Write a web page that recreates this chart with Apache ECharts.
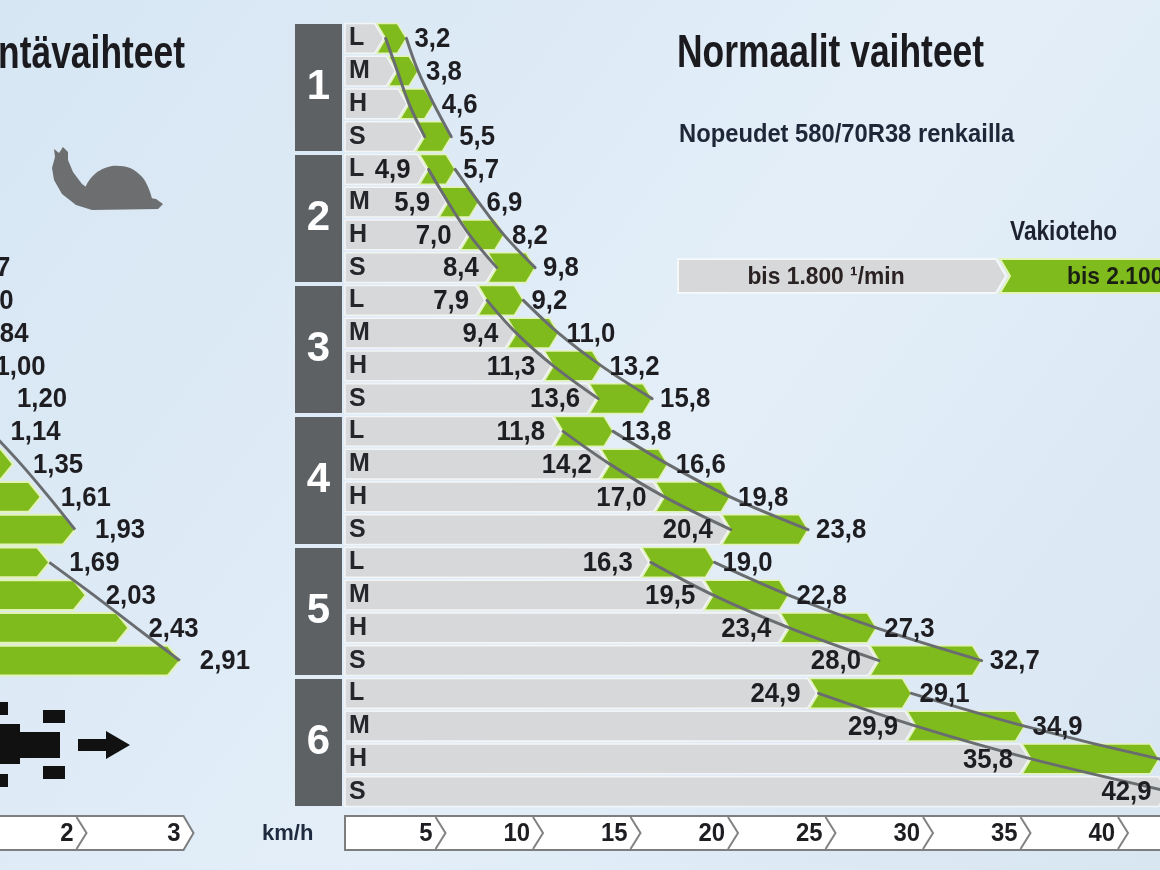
<!DOCTYPE html>
<html><head><meta charset="utf-8">
<script src="https://cdn.jsdelivr.net/npm/echarts@6/dist/echarts.min.js"></script>
<style>html,body{margin:0;padding:0;width:1160px;height:870px;overflow:hidden}#c{width:1160px;height:870px}</style>
</head><body><div id="c"></div><script>
// ---------- data ----------
const gears = ['1', '2', '3', '4', '5', '6'];
const ranges = ['L', 'M', 'H', 'S'];
// km/h at 1800 1/min (start of constant power range)
const speed1800 = [2.7, 3.3, 3.9, 4.7, 4.9, 5.9, 7.0, 8.4, 7.9, 9.4, 11.3, 13.6,
  11.8, 14.2, 17.0, 20.4, 16.3, 19.5, 23.4, 28.0, 24.9, 29.9, 35.8, 42.9];
// km/h at 2100 1/min
const speed2100 = [3.2, 3.8, 4.6, 5.5, 5.7, 6.9, 8.2, 9.8, 9.2, 11.0, 13.2, 15.8,
  13.8, 16.6, 19.8, 23.8, 19.0, 22.8, 27.3, 32.7, 29.1, 34.9, 41.8, 50.0];
// which gears print their 1800 value
const showLowLabel = [false, true, true, true, true, true];
// creep gears (Ryömintävaihteet), km/h, only visible rows
const creepSpeed = [null, null, null, null, null, null, 0.56, 0.67, 0.70, 0.84, 1.00, 1.20,
  1.14, 1.35, 1.61, 1.93, 1.69, 2.03, 2.43, 2.91, null, null, null, null];
const kmhTicks = [5, 10, 15, 20, 25, 30, 35, 40, 45];
const creepTicks = [1, 2, 3];

// ---------- derived ----------
const rowIds = [];
gears.forEach(g => ranges.forEach(r => rowIds.push(g + r)));
const gearData = speed1800.map((lo, i) => [lo, speed2100[i], i]);
const curveData = gears.map((g, gi) => {
  const r = gi * 4;
  return [...speed1800.slice(r, r + 4), ...speed2100.slice(r, r + 4), r];
});
const creepData = creepSpeed.map((v, i) => [v == null ? '-' : v, i]);
const creepCurveData = [];
gears.forEach((g, gi) => {
  const vals = creepSpeed.slice(gi * 4, gi * 4 + 4);
  if (vals.some(v => v != null)) creepCurveData.push([...vals.map(v => v == null ? 0 : v), gi * 4]);
});

// ---------- style ----------
const FONT = '"Liberation Sans",Arial,sans-serif';
const GREEN = '#80bb1e', GREEN_EDGE = '#e2f3b4', GRAY = '#d6d8d9', DARK = '#5e6164', LINE = '#6a6d70', TXT = '#1e1e22';
const TAIL = 20, TIP = 9;
const fmt1 = v => v.toFixed(1).replace('.', ',');
const fmt2 = v => v.toFixed(2).replace('.', ',');
const valText = (text, x, y, align) => ({ type: 'text', x: x, y: y, scaleX: 0.92, z2: 20,
  style: { text: text, x: 0, y: 0, align: align, verticalAlign: 'middle', fill: TXT, font: 'bold 28px ' + FONT } });

function gearShape(params, api) {
  const lo = api.value(0), hi = api.value(1), row = api.value(2);
  const p0 = api.coord([0, row]), pl = api.coord([lo, row]), ph = api.coord([hi, row]);
  const band = api.size([0, 1])[1];
  const h = band - 3, yc = p0[1], top = yc - h / 2, bot = yc + h / 2;
  const gs = pl[0] - TAIL, xe = ph[0];
  return {
    type: 'group', children: [
      { type: 'polygon', shape: { points: [[p0[0] + 1, top], [gs - 2, top], [gs + TIP - 2, yc], [gs - 2, bot], [p0[0] + 1, bot]] },
        style: { fill: GRAY, stroke: '#f3f5f6', lineWidth: 1.5 } },
      { type: 'polygon', shape: { points: [[gs, top], [xe - TIP, top], [xe, yc], [xe - TIP, bot], [gs, bot], [gs + TIP, yc]] },
        style: { fill: GREEN, stroke: GREEN_EDGE, lineWidth: 1.5 } }
    ]
  };
}
function gearLabels(params, api) {
  const lo = api.value(0), hi = api.value(1), row = api.value(2);
  const pl = api.coord([lo, row]), ph = api.coord([hi, row]);
  const ch = [valText(fmt1(hi), ph[0] + 8, pl[1] + 1, 'left')];
  if (showLowLabel[Math.floor(row / 4)]) ch.push(valText(fmt1(lo), pl[0] - TAIL - 9, pl[1] + 1, 'right'));
  return { type: 'group', children: ch };
}
function gearCurves(params, api) {
  const r0 = api.value(8);
  const low = [], high = [];
  for (let k = 0; k < 4; k++) {
    const a = api.coord([api.value(k), r0 + k]);
    const b = api.coord([api.value(4 + k), r0 + k]);
    low.push([a[0] - TAIL + TIP, a[1]]);
    high.push([b[0], b[1]]);
  }
  const st = { stroke: LINE, lineWidth: 3, fill: null, lineCap: 'round' };
  return { type: 'group', children: [
    { type: 'polyline', shape: { points: low, smooth: 0.35 }, style: st },
    { type: 'polyline', shape: { points: high, smooth: 0.35 }, style: st }
  ] };
}
function creepShape(params, api) {
  const v = api.value(0), row = api.value(1);
  if (isNaN(v)) return null;
  const p0 = api.coord([0, row]), pv = api.coord([v, row]);
  const band = api.size([0, 1])[1];
  const h = band - 3, yc = p0[1], top = yc - h / 2, bot = yc + h / 2;
  const xe = pv[0];
  return { type: 'group', children: [
    { type: 'polygon', shape: { points: [[p0[0], top], [xe - 12, top], [xe, yc], [xe - 12, bot], [p0[0], bot]] },
      style: { fill: GREEN, stroke: GREEN_EDGE, lineWidth: 2 } },
    valText(fmt2(v), xe + 20, yc + 1, 'left')
  ] };
}
function creepCurves(params, api) {
  const r0 = api.value(4);
  const pts = [];
  for (let k = 0; k < 4; k++) {
    const v = api.value(k);
    if (v > 0) {
      const p = api.coord([v, r0 + k]);
      pts.push([p[0] + (k === 1 || k === 2 ? 8 : 0), p[1]]);
    }
  }
  return { type: 'polyline', shape: { points: pts, smooth: 0.35 }, style: { stroke: LINE, lineWidth: 3, fill: null } };
}
function bandItem(ticksEnd, fromX) {
  return function (params, api) {
    const t = api.value(0);
    const p = api.coord([t, 0]);
    const cs = params.coordSys;
    const top = cs.y + cs.height + 8, bot = top + 34, mid = (top + bot) / 2;
    const x = p[0];
    const ch = [];
    if (params.dataIndex === 0) {
      const x0 = fromX == null ? cs.x + 1 : fromX;
      const xr = ticksEnd ? api.coord([ticksEnd, 0])[0] + 4 : cs.x + cs.width + 50;
      const pts = ticksEnd ? [[x0, top], [xr - 10, top], [xr, mid], [xr - 10, bot], [x0, bot]]
        : [[x0, top], [xr, top], [xr, bot], [x0, bot]];
      ch.push({ type: 'polygon', shape: { points: pts }, style: { fill: '#ffffff', stroke: '#7c7e80', lineWidth: 2 } });
    }
    if (!(ticksEnd && t === ticksEnd)) {
      ch.push({ type: 'polyline', z2: 5, shape: { points: [[x - 6, top + 1], [x + 4, mid], [x - 6, bot - 1]] },
        style: { stroke: '#808284', lineWidth: 2, fill: null } });
    }
    ch.push({ type: 'text', z2: 6, x: x - 9, y: mid + 1, scaleX: 0.92,
      style: { text: String(t), x: 0, y: 0, align: 'right', verticalAlign: 'middle', fill: TXT, font: 'bold 26px ' + FONT } });
    return { type: 'group', children: ch };
  };
}

const TOP = 22, H = 786;
const PX = 19.5;              // px per km/h on the normal-gear axis
const CPX = 107;              // px per km/h on the creep-gear axis
const option = {
  animation: false,
  backgroundColor: { type: 'linear', x: 0, y: 0, x2: 1, y2: 1, colorStops: [
    { offset: 0, color: '#d6e6f3' }, { offset: 0.55, color: '#e3eef8' }, { offset: 1, color: '#d8e6f2' }] },
  grid: [
    { left: 344, top: TOP, width: 816, height: H },       // normal gears
    { left: 295, top: TOP, width: 47, height: H },        // gear blocks
    { left: 0, top: TOP, width: 211, height: H }          // creep gears
  ],
  xAxis: [
    { gridIndex: 0, type: 'value', min: 0, max: 816 / PX, show: false },
    { gridIndex: 1, type: 'value', min: 0, max: 1, show: false },
    { gridIndex: 2, type: 'value', min: 131.5 / CPX, max: (131.5 + 211) / CPX, show: false }
  ],
  yAxis: [
    { gridIndex: 0, type: 'category', data: rowIds, inverse: true, z: 10,
      axisLine: { show: false }, axisTick: { show: false }, splitLine: { show: false },
      axisLabel: { inside: true, margin: 5, formatter: (v, i) => ranges[i % 4], color: '#25262b',
        fontFamily: FONT, fontWeight: 'bold', fontSize: 25 } },
    { gridIndex: 1, type: 'category', data: gears, inverse: true, show: false },
    { gridIndex: 2, type: 'category', data: rowIds, inverse: true, show: false }
  ],
  series: [
    { type: 'bar', xAxisIndex: 1, yAxisIndex: 1, data: gears.map(() => 1), barWidth: 127,
      itemStyle: { color: DARK }, silent: true,
      label: { show: true, position: 'inside', formatter: '{b}', color: '#ffffff', fontSize: 42, fontWeight: 'bold', fontFamily: FONT } },
    { type: 'custom', xAxisIndex: 0, yAxisIndex: 0, renderItem: gearShape, data: gearData, encode: { x: [0, 1], y: 2 }, z: 2, silent: true },
    { type: 'custom', xAxisIndex: 0, yAxisIndex: 0, renderItem: gearCurves, data: curveData,
      encode: { x: [0, 1, 2, 3, 4, 5, 6, 7], y: 8 }, z: 3, silent: true },
    { type: 'custom', xAxisIndex: 0, yAxisIndex: 0, renderItem: gearLabels, data: gearData, encode: { x: [0, 1], y: 2 }, z: 4, silent: true },
    { type: 'custom', xAxisIndex: 0, yAxisIndex: 0, renderItem: bandItem(null, null), data: kmhTicks.map(t => [t, 0]),
      encode: { x: 0, y: 1 }, z: 2, silent: true },
    { type: 'custom', xAxisIndex: 2, yAxisIndex: 2, renderItem: creepShape, data: creepData, encode: { x: 0, y: 1 }, z: 2, silent: true },
    { type: 'custom', xAxisIndex: 2, yAxisIndex: 2, renderItem: creepCurves, data: creepCurveData,
      encode: { x: [0, 1, 2, 3], y: 4 }, z: 3, silent: true },
    { type: 'custom', xAxisIndex: 2, yAxisIndex: 2, renderItem: bandItem(3, -20), data: creepTicks.map(t => [t, 0]),
      encode: { x: 0, y: 1 }, z: 2, silent: true }
  ],
  graphic: { elements: [
    { type: 'text', x: 185, y: 55, scaleX: 0.77, style: { text: 'Ryömintävaihteet', x: 0, y: 0, align: 'right', verticalAlign: 'middle', fill: '#1b1b1f', font: 'bold 46px ' + FONT } },
    { type: 'text', x: 677, y: 54, scaleX: 0.77, style: { text: 'Normaalit vaihteet', x: 0, y: 0, align: 'left', verticalAlign: 'middle', fill: '#1b1b1f', font: 'bold 46px ' + FONT } },
    { type: 'text', x: 679, y: 135, scaleX: 0.95, style: { text: 'Nopeudet 580/70R38 renkailla', x: 0, y: 0, align: 'left', verticalAlign: 'middle', fill: '#1e2738', font: 'bold 25px ' + FONT } },
    { type: 'text', x: 1010, y: 233, scaleX: 0.84, style: { text: 'Vakioteho', x: 0, y: 0, align: 'left', verticalAlign: 'middle', fill: '#1e2230', font: 'bold 27px ' + FONT } },
    { type: 'polygon', shape: { points: [[678, 259], [996, 259], [1006, 276], [996, 293], [678, 293]] }, style: { fill: GRAY, stroke: '#f6f7f8', lineWidth: 2 } },
    { type: 'polygon', shape: { points: [[1000, 259], [1180, 259], [1180, 293], [1000, 293], [1010, 276]] }, style: { fill: GREEN, stroke: GREEN_EDGE, lineWidth: 2 } },
    { type: 'text', x: 826, y: 277, scaleX: 0.95, style: { text: 'bis 1.800 ¹/min', x: 0, y: 0, align: 'center', verticalAlign: 'middle', fill: '#2a2222', font: 'bold 24px ' + FONT } },
    { type: 'text', x: 1067, y: 277, scaleX: 0.95, style: { text: 'bis 2.100 ¹/min', x: 0, y: 0, align: 'left', verticalAlign: 'middle', fill: '#1a1f14', font: 'bold 24px ' + FONT } },
    { type: 'text', x: 262, y: 834, style: { text: 'km/h', x: 0, y: 0, align: 'left', verticalAlign: 'middle', fill: '#1e2a3e', font: 'bold 22px ' + FONT } },
    // snail
    { type: 'polygon', shape: { points: [[84, 204], [86, 186], [96, 173], [112, 166], [130, 168], [143, 178], [150, 192], [151, 202]], smooth: 0.3 }, style: { fill: '#6c6e70' } },
    { type: 'polygon', shape: { points: [[55, 157], [54, 149], [59, 153], [63, 147], [68, 152], [68, 160], [73, 172], [82, 184], [96, 194], [145, 197], [156, 199], [163, 204], [158, 209], [92, 210], [76, 205], [62, 194], [54, 180], [52, 168]] }, style: { fill: '#6c6e70' } },
    // tractor (top view) + arrow
    { type: 'rect', shape: { x: -4, y: 702, width: 12, height: 13 }, style: { fill: '#111' } },
    { type: 'rect', shape: { x: -4, y: 774, width: 12, height: 13 }, style: { fill: '#111' } },
    { type: 'rect', shape: { x: 43, y: 710, width: 22, height: 13 }, style: { fill: '#111' } },
    { type: 'rect', shape: { x: 43, y: 766, width: 22, height: 13 }, style: { fill: '#111' } },
    { type: 'rect', shape: { x: -4, y: 724, width: 24, height: 40 }, style: { fill: '#111' } },
    { type: 'rect', shape: { x: 18, y: 732, width: 42, height: 26 }, style: { fill: '#111' } },
    { type: 'polygon', shape: { points: [[78, 739], [106, 739], [106, 731], [130, 745], [106, 759], [106, 751], [78, 751]] }, style: { fill: '#111' } }
  ] }
};
const chart = echarts.init(document.getElementById('c'), null, { renderer: 'canvas', width: 1160, height: 870 });
chart.setOption(option);
</script></body></html>
